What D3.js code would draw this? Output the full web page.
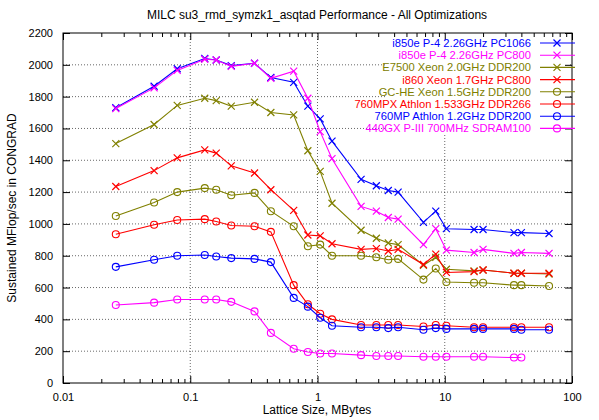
<!DOCTYPE html><html><head><script src="https://d3js.org/d3.v7.min.js"></script>
<style>body{margin:0;background:#fff}text{font-family:"Liberation Sans",Arial,sans-serif}</style></head><body><svg id="c" width="599" height="420"></svg>
<script>
const xs=[0.026,0.052,0.079,0.13,0.16,0.21,0.32,0.43,0.65,0.84,1.05,1.3,2.2,2.9,3.6,4.3,6.8,8.5,10.3,17,20,35,40,66];
const names=["i850e P-4 2.26GHz PC1066","i850e P-4 2.26GHz PC800","E7500 Xeon 2.0GHz DDR200","i860 Xeon 1.7GHz PC800","GC-HE Xeon 1.5GHz DDR200","760MPX Athlon 1.533GHz DDR266","760MP Athlon 1.2GHz DDR200","440GX P-III 700MHz SDRAM100"];
const colors=["#0000ff","#ff00ff","#808000","#ff0000","#808000","#ff0000","#0000ff","#ff00ff"];
const markers=["x","x","x","x","o","o","o","o"];
const vals=[
[1730,1865,1975,2040,2030,1995,2010,1920,1890,1740,1660,1520,1280,1240,1210,1200,1010,1080,970,965,965,945,945,940],
[1725,1855,1965,2035,2030,1990,2010,1915,1960,1790,1580,1410,1110,1080,1040,1030,870,970,835,820,840,815,820,815],
[1505,1625,1745,1790,1775,1740,1765,1700,1685,1460,1330,1130,960,910,880,870,740,790,715,705,710,690,690,685],
[1235,1335,1415,1465,1445,1365,1320,1215,1085,930,925,875,840,845,830,840,745,810,695,700,710,690,690,690],
[1050,1135,1200,1225,1215,1180,1195,1080,985,860,870,800,800,790,775,780,650,720,635,630,630,615,615,610],
[935,995,1025,1030,1015,990,985,950,615,495,435,400,365,365,365,365,355,365,360,350,350,350,350,350],
[730,775,800,805,795,785,780,760,535,480,410,360,350,350,345,350,335,345,340,340,340,340,335,335],
[490,505,525,525,525,510,450,315,215,195,185,185,175,170,170,170,165,165,165,165,165,160,160]];
const yTicks=d3.range(0,2201,200), xTicks=[0.01,0.1,1,10,100];
const svg=d3.select("#c");
const L=63,R=572,T=33,B=383;
const x=d3.scaleLog().domain([0.01,100]).range([L,R]);
const y=d3.scaleLinear().domain([0,2200]).range([B,T]);
const minor=[];for(let d=0.01;d<100;d*=10)for(let k=2;k<10;k++)minor.push(d*k);
const g=svg.append("g");
g.selectAll(".gx").data(xTicks.slice(1,-1)).join("line").attr("x1",d=>x(d)).attr("x2",d=>x(d)).attr("y1",T).attr("y2",B).attr("stroke","#000").attr("stroke-width",0.6).attr("stroke-dasharray","1,2");
g.selectAll(".gy").data(yTicks.slice(1,-1)).join("line").attr("y1",d=>y(d)).attr("y2",d=>y(d)).attr("x1",L).attr("x2",R).attr("stroke","#000").attr("stroke-width",0.6).attr("stroke-dasharray","1,2");
svg.append("rect").attr("x",386).attr("y",35).attr("width",182).attr("height",99).attr("fill","#fff");
svg.append("g").attr("transform",`translate(0,${B})`).call(d3.axisBottom(x).tickValues(xTicks).tickFormat(d3.format("")).tickSizeInner(-7).tickSizeOuter(0).tickPadding(10)).call(a=>a.select(".domain").remove());
svg.append("g").attr("transform",`translate(0,${B})`).call(d3.axisBottom(x).tickValues(minor).tickFormat("").tickSizeInner(-4).tickSizeOuter(0)).call(a=>a.select(".domain").remove());
svg.append("g").attr("transform",`translate(0,${T})`).call(d3.axisTop(x).tickValues(xTicks).tickFormat("").tickSizeInner(-7).tickSizeOuter(0)).call(a=>a.select(".domain").remove());
svg.append("g").attr("transform",`translate(0,${T})`).call(d3.axisTop(x).tickValues(minor).tickFormat("").tickSizeInner(-4).tickSizeOuter(0)).call(a=>a.select(".domain").remove());
svg.append("g").attr("transform",`translate(${L},0)`).call(d3.axisLeft(y).tickValues(yTicks).tickFormat(d3.format("d")).tickSizeInner(-7).tickSizeOuter(0).tickPadding(10)).call(a=>a.select(".domain").remove());
svg.append("g").attr("transform",`translate(${R},0)`).call(d3.axisRight(y).tickValues(yTicks).tickFormat("").tickSizeInner(-7).tickSizeOuter(0)).call(a=>a.select(".domain").remove());
svg.selectAll(".tick text").attr("font-size",11).attr("fill","#000");
svg.append("rect").attr("x",L).attr("y",T).attr("width",R-L).attr("height",B-T).attr("fill","none").attr("stroke","#000");
svg.append("text").attr("x",317).attr("y",19).attr("text-anchor","middle").attr("font-size",12).text("MILC su3_rmd_symzk1_asqtad Performance - All Optimizations");
svg.append("text").attr("x",317).attr("y",414).attr("text-anchor","middle").attr("font-size",12).text("Lattice Size, MBytes");
svg.append("text").attr("transform","translate(16,208) rotate(-90)").attr("text-anchor","middle").attr("font-size",12).text("Sustained MFlop/sec in CONGRAD");
function mark(sel,m,c){
 if(m==="x") sel.append("path").attr("d","M-3.5,-3.5L3.5,3.5M-3.5,3.5L3.5,-3.5").attr("stroke",c).attr("stroke-width",1.2);
 else sel.append("circle").attr("r",3.5).attr("fill","none").attr("stroke",c).attr("stroke-width",1.1);
}
const line=d3.line().x(d=>x(d[0])).y(d=>y(d[1]));
vals.forEach((v,i)=>{
 const pts=v.map((val,j)=>[xs[j],val]);
 svg.append("path").attr("d",line(pts)).attr("fill","none").attr("stroke",colors[i]).attr("stroke-width",1.1);
 pts.forEach(p=>mark(svg.append("g").attr("transform",`translate(${x(p[0])},${y(p[1])})`),markers[i],colors[i]));
 const ly=43+i*12.2;
 svg.append("text").attr("x",531).attr("y",ly+4).attr("text-anchor","end").attr("font-size",11.2).attr("fill",colors[i]).text(names[i]);
 svg.append("line").attr("x1",540).attr("x2",575).attr("y1",ly).attr("y2",ly).attr("stroke",colors[i]).attr("stroke-width",1.1);
 mark(svg.append("g").attr("transform",`translate(557,${ly})`),markers[i],colors[i]);
});
</script></body></html>
